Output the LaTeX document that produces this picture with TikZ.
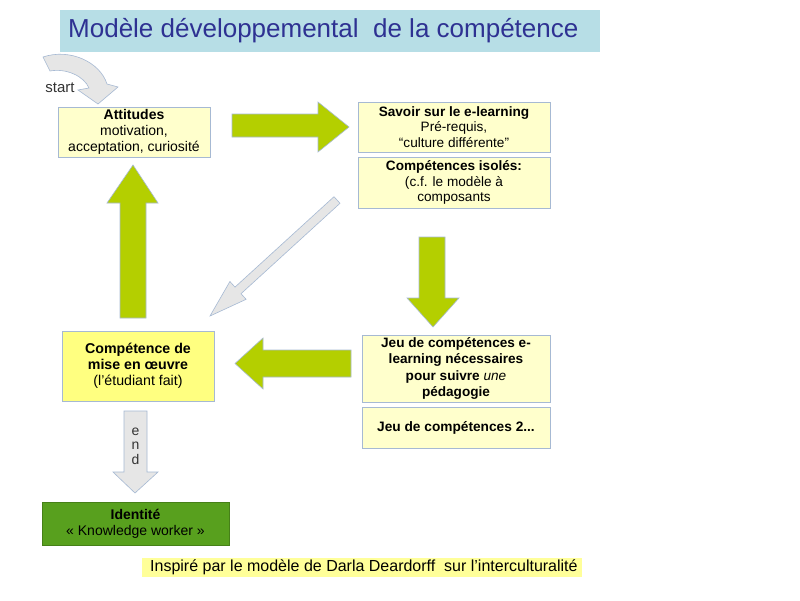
\documentclass[tikz,border=0pt]{standalone}
\usepackage{fontspec}
\setmainfont{Liberation Sans}
\definecolor{titlefill}{HTML}{B7DEE6}
\definecolor{titletext}{HTML}{2E3192}
\definecolor{boxfill}{HTML}{FFFFCC}
\definecolor{boxline}{HTML}{A6B9D3}
\definecolor{misefill}{HTML}{FFFF80}
\definecolor{idfill}{HTML}{58A01E}
\definecolor{footfill}{HTML}{FFFF99}
\definecolor{arrowgreen}{HTML}{B4CF00}
\definecolor{arrowgray}{HTML}{E6E6E6}
\tikzset{
  ybox/.style={draw=boxline, line width=0.8pt, fill=boxfill, align=center, inner sep=0pt,
    font=\fontsize{13.8}{16}\selectfont},
  greenarrow/.style={draw=boxline, line width=0.6pt, fill=arrowgreen},
  grayarrow/.style={draw=boxline, line width=0.6pt, fill=arrowgray},
}
\begin{document}
\begin{tikzpicture}[x=1pt,y=-1pt]
\useasboundingbox (0,0) rectangle (800,600);
\fill[white] (0,0) rectangle (800,600);
% title
\node[fill=titlefill, minimum width=540pt, minimum height=42pt, inner sep=0pt, anchor=north west] (title) at (60,10) {};
\node[anchor=west, text=titletext, font=\fontsize{26}{30}\selectfont, inner sep=0pt] (titletxt) at (68,31) {Modèle développemental\ \ de la compétence};
% boxes
\node[ybox, minimum width=152pt, minimum height=50pt, font=\fontsize{14}{16}\selectfont] (att) at (134,132) {\textbf{Attitudes}\\motivation,\\acceptation, curiosité};
\node[ybox, minimum width=192pt, minimum height=50pt, font=\fontsize{13.6}{15.5}\selectfont] (sav) at (454,127) {\textbf{Savoir sur le e-learning}\\Pré-requis,\\“culture différente”};
\node[ybox, minimum width=192pt, minimum height=51pt, font=\fontsize{13.6}{15.5}\selectfont] (iso) at (454,182.5) {\textbf{Compétences isolés:}\\(c.f. le modèle à\\composants};
\node[ybox, minimum width=188pt, minimum height=67pt, font=\bfseries\fontsize{13.6}{16.3}\selectfont] (jeu) at (456,368.5) {Jeu de compétences e-\\learning nécessaires\\pour suivre \textnormal{\itshape une}\\pédagogie};
\node[ybox, minimum width=188pt, minimum height=41pt, font=\bfseries\fontsize{13.7}{15}\selectfont] (jeu2) at (456,427.5) {Jeu de compétences 2...};
\node[ybox, fill=misefill, minimum width=152pt, minimum height=70pt, font=\fontsize{14.2}{16}\selectfont] (mise) at (138,366) {\textbf{Compétence de}\\\textbf{mise en œuvre}\\(l{\char"0027}étudiant fait)};
\node[ybox, draw=idfill!80!black, fill=idfill, minimum width=187pt, minimum height=43pt, font=\fontsize{14}{16}\selectfont] (id) at (135.5,523.5) {\textbf{Identité}\\« Knowledge worker »};
\node[fill=footfill, minimum width=440pt, minimum height=19pt, inner sep=0pt] (foot) at (362,567.5) {};
\node[anchor=west, inner sep=0pt, font=\fontsize{16}{18}\selectfont] (foottxt) at (150,567.5) {Inspiré par le modèle de Darla Deardorff\ \ sur l’interculturalité};
% start curved arrow
\draw[grayarrow] (43,57) .. controls (70,48) and (100,62) .. (107,84) -- (118,87) -- (98,104) -- (78,90) -- (89,88) .. controls (84,76) and (66,68) .. (50,71) -- cycle;
\node[font=\fontsize{15}{16}\selectfont, text=black!80, inner sep=0pt] (start) at (60,88) {start};
% green arrows
\draw[greenarrow] (232,114) -- (318,114) -- (318,102) -- (349,127) -- (318,152) -- (318,137) -- (232,137) -- cycle;
\draw[greenarrow] (419,237) -- (445,237) -- (445,298) -- (459,298) -- (433,327) -- (407,298) -- (419,298) -- cycle;
\draw[greenarrow] (351,350) -- (263,350) -- (263,338) -- (235,363.5) -- (263,389) -- (263,377) -- (351,377) -- cycle;
\draw[greenarrow] (120,318) -- (120,203) -- (107,203) -- (133,165) -- (158,203) -- (146,203) -- (146,318) -- cycle;
% diagonal gray arrow
\draw[grayarrow] (340,203.3) -- (241,293.7) -- (246.1,299.3) -- (210,316) -- (229.9,281.5) -- (235,287.1) -- (334,196.7) -- cycle;
% end arrow
\draw[grayarrow] (124,411) -- (147,411) -- (147,472) -- (158,472) -- (135,493) -- (113,472) -- (124,472) -- cycle;
\node[align=center, font=\fontsize{14}{14.5}\selectfont, text=black!80, inner sep=0pt] (endtxt) at (135.5,446) {e\\n\\d};
\end{tikzpicture}
\end{document}
